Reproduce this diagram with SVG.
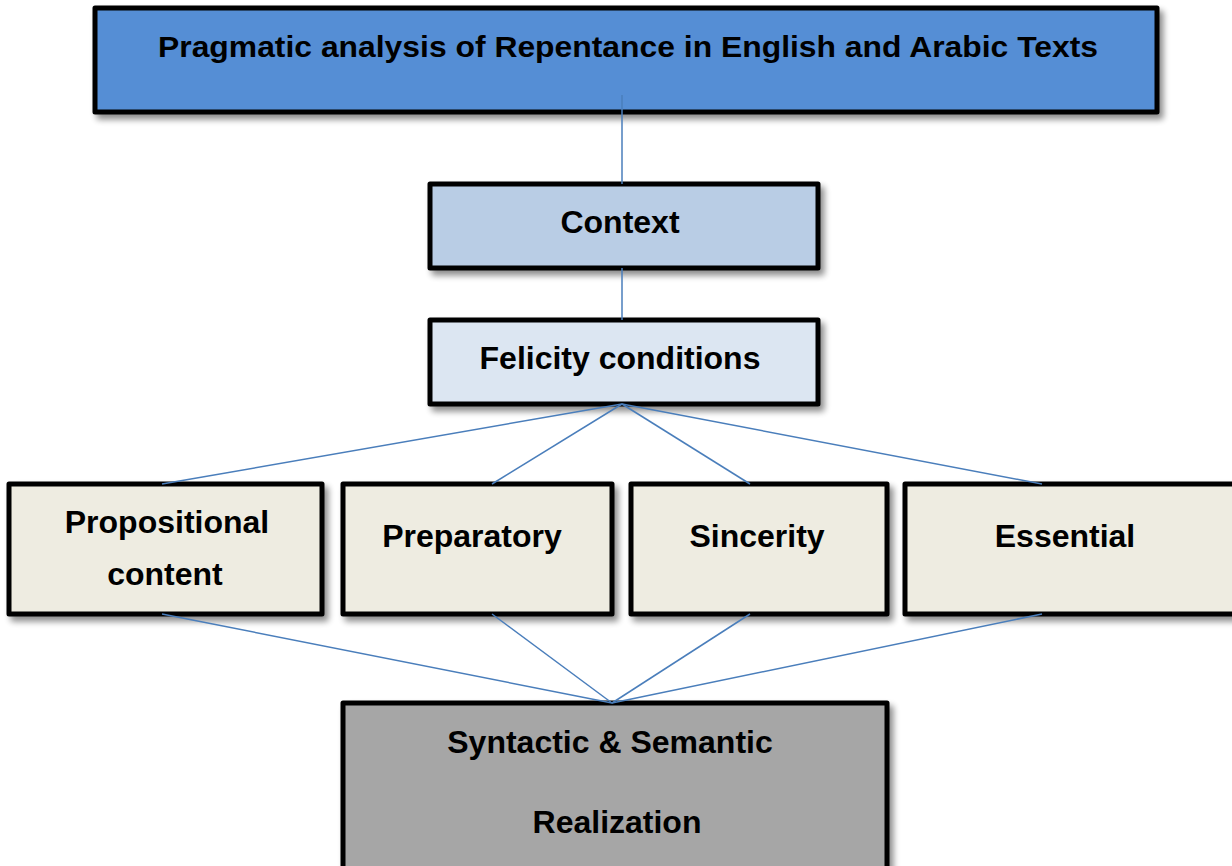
<svg xmlns="http://www.w3.org/2000/svg" width="1232" height="866" viewBox="0 0 1232 866">
<defs>
<filter id="sh" x="-10%" y="-10%" width="130%" height="140%">
<feGaussianBlur in="SourceAlpha" stdDeviation="3"/>
<feOffset dx="4" dy="5" result="b"/>
<feComponentTransfer><feFuncA type="linear" slope="0.45"/></feComponentTransfer>
<feMerge><feMergeNode/><feMergeNode in="SourceGraphic"/></feMerge>
</filter>
</defs>
<style>
.box{stroke:#000;stroke-width:5;stroke-linejoin:round;filter:url(#sh)}
.t{font-family:"Liberation Sans",Arial,sans-serif;font-weight:bold;font-size:32px;fill:#000;text-anchor:middle}
.c{stroke:#4a7ebb;stroke-width:1.5;fill:none}
</style>
<rect width="1232" height="866" fill="#fff"/>
<g id="title">
<rect class="box" x="95" y="8" width="1062" height="104" fill="#558ed5"/>
<text class="t" x="628" y="57" textLength="940" lengthAdjust="spacingAndGlyphs" style="font-size:30px">Pragmatic analysis of Repentance in English and Arabic Texts</text>
</g>
<g id="context">
<rect class="box" x="430" y="184" width="388" height="84" fill="#b9cde5"/>
<text class="t" x="620" y="233">Context</text>
</g>
<g id="felicity">
<rect class="box" x="430" y="320" width="388" height="84" fill="#dce6f2"/>
<text class="t" x="620" y="369">Felicity conditions</text>
</g>
<g id="propositional">
<rect class="box" x="9" y="484" width="313" height="130" fill="#eeece1"/>
<text class="t" x="167" y="533">Propositional</text>
<text class="t" x="165" y="585">content</text>
</g>
<g id="preparatory">
<rect class="box" x="343" y="484" width="269" height="130" fill="#eeece1"/>
<text class="t" x="472" y="547">Preparatory</text>
</g>
<g id="sincerity">
<rect class="box" x="631" y="484" width="256" height="130" fill="#eeece1"/>
<text class="t" x="757" y="547">Sincerity</text>
</g>
<g id="essential">
<rect class="box" x="905" y="484" width="340" height="130" fill="#eeece1"/>
<text class="t" x="1065" y="547">Essential</text>
</g>
<g id="realization">
<rect class="box" x="343" y="703" width="544" height="175" fill="#a6a6a6"/>
<text class="t" x="610" y="753">Syntactic &amp; Semantic</text>
<text class="t" x="617" y="833">Realization</text>
</g>
<g id="connectors">
<line class="c" x1="622" y1="95" x2="622" y2="184"/>
<line class="c" x1="622" y1="268" x2="622" y2="320"/>
<line class="c" x1="622" y1="404" x2="162" y2="484"/>
<line class="c" x1="622" y1="404" x2="492" y2="484"/>
<line class="c" x1="622" y1="404" x2="750" y2="484"/>
<line class="c" x1="622" y1="404" x2="1042" y2="484"/>
<line class="c" x1="162" y1="614" x2="612" y2="703"/>
<line class="c" x1="492" y1="614" x2="612" y2="703"/>
<line class="c" x1="750" y1="614" x2="612" y2="703"/>
<line class="c" x1="1042" y1="614" x2="612" y2="703"/>
</g>
</svg>
